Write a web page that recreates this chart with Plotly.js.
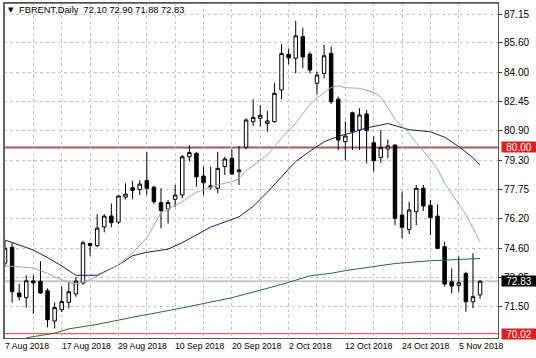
<!DOCTYPE html>
<html><head><meta charset="utf-8">
<script src="https://cdn.plot.ly/plotly-3.0.1.min.js"></script>
<style>html,body{margin:0;padding:0;background:#fff}#chart{width:536px;height:358px}</style>
</head><body><div id="chart"></div>
<script>
// ---- DATA ----
const dates = [
 '2018-08-07','2018-08-08','2018-08-09','2018-08-10','2018-08-13','2018-08-14','2018-08-15','2018-08-16','2018-08-17',
 '2018-08-20','2018-08-21','2018-08-22','2018-08-23','2018-08-24','2018-08-27','2018-08-28','2018-08-29','2018-08-30','2018-08-31',
 '2018-09-03','2018-09-04','2018-09-05','2018-09-06','2018-09-07','2018-09-10','2018-09-11','2018-09-12','2018-09-13','2018-09-14',
 '2018-09-17','2018-09-18','2018-09-19','2018-09-20','2018-09-21','2018-09-24','2018-09-25','2018-09-26','2018-09-27','2018-09-28',
 '2018-10-01','2018-10-02','2018-10-03','2018-10-04','2018-10-05','2018-10-08','2018-10-09','2018-10-10','2018-10-11','2018-10-12',
 '2018-10-15','2018-10-16','2018-10-17','2018-10-18','2018-10-19','2018-10-22','2018-10-23','2018-10-24','2018-10-25','2018-10-26',
 '2018-10-29','2018-10-30','2018-10-31','2018-11-01','2018-11-02','2018-11-05','2018-11-06','2018-11-07','2018-11-08'
];
const open  = [73.80,74.65,72.20,71.95,72.85,72.83,72.32,70.70,71.30,71.70,72.15,72.74,74.85,74.74,75.74,76.33,76.00,77.34,77.84,77.75,
               78.22,77.87,77.04,76.70,77.22,77.45,79.50,79.68,78.47,77.94,77.81,78.97,79.42,78.70,80.01,81.38,81.56,81.29,81.38,83.08,
               84.99,84.78,85.94,85.00,83.44,83.97,85.04,82.59,80.31,81.86,80.93,81.79,80.25,79.47,79.92,80.13,76.38,75.61,76.56,77.81,
               76.90,76.32,74.68,72.80,72.61,73.25,71.73,72.10];
const high  = [75.00,74.89,72.70,73.15,73.15,73.90,72.45,71.70,72.55,72.78,73.06,75.00,74.90,76.42,76.42,77.00,77.46,78.08,78.22,78.25,
               79.77,77.95,77.81,77.18,78.00,79.59,80.13,79.77,78.97,78.97,79.77,79.50,79.90,80.08,81.56,82.58,82.27,81.95,83.44,85.54,
               85.30,86.79,86.42,85.13,84.06,85.50,85.40,82.72,81.40,81.92,82.10,82.00,80.60,80.93,80.43,80.15,77.63,77.09,77.99,77.99,
               77.18,76.95,74.95,73.52,74.15,73.34,74.33,72.90];
const low   = [73.60,71.68,71.80,71.42,71.08,72.15,70.36,70.30,71.18,71.37,72.00,72.64,74.20,74.66,75.45,75.72,75.90,77.22,77.22,77.45,
               77.45,76.95,75.67,75.93,76.82,77.27,79.24,77.90,77.45,77.74,77.55,78.52,78.52,77.99,79.90,81.15,81.11,80.84,81.33,82.58,
               84.45,83.97,84.25,83.97,82.85,83.70,82.33,79.86,79.33,79.86,79.86,79.15,78.70,79.18,79.42,75.84,75.13,75.36,75.84,76.60,
               75.30,74.55,72.54,72.18,72.27,71.20,71.38,71.88];
const close = [74.60,72.27,72.00,72.85,72.74,72.20,70.77,71.42,71.74,72.27,72.84,74.89,74.75,75.68,76.32,75.97,77.40,77.50,77.70,78.04,
               77.81,77.09,76.62,77.05,77.45,79.50,79.72,78.43,78.11,77.88,78.88,79.38,78.58,78.79,81.47,81.61,81.72,81.42,82.90,85.04,
               84.80,85.98,84.85,84.15,83.88,84.91,82.45,80.40,80.61,80.84,81.74,80.90,79.29,80.00,80.08,76.20,75.72,76.65,77.81,76.86,
               76.24,74.59,72.68,72.57,72.75,71.73,72.00,72.83];

// moving averages (at bar indices)
const maFastIdx = [0,4,6,8,10,12,14,16,18,20,22,25,27,30,32,33,34,37,39,41,43,44,46,47,48,50,52,53,54,55,57,58,60,61,62,63,64,65,66,67];
const maFastVal = [73.66,73.54,73.25,72.90,72.68,72.90,73.30,73.70,74.35,75.15,76.50,77.10,77.60,78.00,78.16,78.35,78.75,79.60,80.50,81.30,
                   82.30,82.65,83.22,83.30,83.20,83.17,82.95,82.70,82.15,81.50,80.75,80.25,79.35,78.85,78.10,77.50,76.95,76.40,75.70,74.95];
const maMidIdx  = [0,4,6,8,10,13,16,18,20,23,25,29,33,35,37,39,41,43,45,47,49,51,54,57,60,62,64,66,67];
const maMidVal  = [75.04,74.50,74.10,73.65,73.15,73.15,73.70,74.20,74.38,74.55,74.90,75.73,76.28,76.85,77.60,78.43,79.25,79.80,80.30,80.60,
                   80.80,81.05,81.28,80.95,80.84,80.55,80.05,79.45,79.06];
const maSlowIdx = [3,5,7,9,13,18,23,25,32,39,43,46,48,51,55,60,62,67];
const maSlowVal = [69.80,69.93,70.05,70.28,70.52,70.90,71.25,71.40,71.95,72.66,73.12,73.26,73.40,73.55,73.78,73.93,73.97,74.05];

const yTickVals = [87.15,85.60,84.00,82.45,80.90,79.30,77.75,76.20,74.60,73.05,71.50];
const xLabelIdx = [0,8,16,24,32,40,48,56,64];
const xLabelText = ['7 Aug 2018','17 Aug 2018','29 Aug 2018','10 Sep 2018','20 Sep 2018','2 Oct 2018','12 Oct 2018','24 Oct 2018','5 Nov 2018'];
const levelLines = [80.00, 72.83, 70.02];
const title = 'FBRENT,Daily  72.10 72.90 71.88 72.83';

// ---- CHART ----
const FONT = 'Liberation Sans, Arial, sans-serif';
const grid = '#c4c4c4';
const traces = [
  {type:'candlestick', x:dates, open:open, high:high, low:low, close:close,
   increasing:{line:{color:'#000',width:1}, fillcolor:'#ffffff'},
   decreasing:{line:{color:'#000',width:1}, fillcolor:'#000000'},
   whiskerwidth:0, hoverinfo:'skip', showlegend:false},
  {type:'scatter', mode:'lines', x:maSlowIdx.map(i=>dates[i]), y:maSlowVal, line:{color:'#2c6a32',width:1}, hoverinfo:'skip', showlegend:false},
  {type:'scatter', mode:'lines', x:maMidIdx.map(i=>dates[i]), y:maMidVal, line:{color:'#1c1f52',width:1}, hoverinfo:'skip', showlegend:false},
  {type:'scatter', mode:'lines', x:maFastIdx.map(i=>dates[i]), y:maFastVal, line:{color:'#86b4a4',width:1}, hoverinfo:'skip', showlegend:false}
];

const shapes = [
  {type:'line', xref:'paper', yref:'y', x0:0, x1:1, y0:levelLines[1], y1:levelLines[1], line:{color:'#c8c8c8', width:2}, layer:'between'},
  {type:'line', xref:'paper', yref:'y', x0:0, x1:1, y0:levelLines[0], y1:levelLines[0], line:{color:'#a85858', width:2}, layer:'between'},
  {type:'line', xref:'paper', yref:'y', x0:0, x1:1, y0:levelLines[2], y1:levelLines[2], line:{color:'#d83a3a', width:1}, layer:'between'},
  {type:'line', xref:'paper', yref:'paper', x0:0, x1:0, y0:0, y1:1, line:{color:'#666', width:2}, layer:'above'},
  {type:'line', xref:'paper', yref:'paper', x0:0, x1:1, y0:1, y1:1, line:{color:'#555', width:1.5}, layer:'above'}
];

const annotations = [];
xLabelIdx.forEach((i,k)=>{
  annotations.push({xref:'x', yref:'paper', x:dates[i], y:-0.024, xanchor:'left', yanchor:'middle', xshift:-2,
    text:xLabelText[k], showarrow:false, font:{family:FONT, size:8.7, color:'#000'}});
});
const boxCols = ['#e01e1e','#000000','#e01e1e'];
levelLines.forEach((v,k)=>{
  annotations.push({xref:'paper', yref:'y', x:1.006, y:v, xanchor:'left', yanchor:'middle',
    text:v.toFixed(2), showarrow:false, bgcolor:boxCols[k], width:34, height:10, borderpad:0,
    font:{family:FONT, size:10, color:'#fff'}});
});
annotations.push({xref:'paper', yref:'paper', x:0.004, y:0.979, xanchor:'left', yanchor:'middle',
  text:'▼', showarrow:false, font:{family:'DejaVu Sans', size:7, color:'#000'}});
annotations.push({xref:'paper', yref:'paper', x:0.027, y:0.979, xanchor:'left', yanchor:'middle',
  text:title, showarrow:false, font:{family:FONT, size:9.3, color:'#000'}});

const layout = {
  width:536, height:358,
  margin:{l:4, r:38, t:3, b:20, pad:0},
  paper_bgcolor:'#fff', plot_bgcolor:'#fff',
  showlegend:false, hovermode:false,
  xaxis:{type:'category', range:[-0.14, 69.53], rangeslider:{visible:false},
    tickvals:dates.filter((d,i)=>i%4===0), showticklabels:false, ticks:'',
    showgrid:true, gridcolor:grid, griddash:'3px,3px', gridwidth:1,
    showline:true, mirror:true, linecolor:'#555', linewidth:1, zeroline:false, fixedrange:true},
  yaxis:{side:'right', range:[69.79, 87.74], tickvals:yTickVals, ticktext:yTickVals.map(v=>v.toFixed(2)),
    ticks:'outside', ticklen:3, tickcolor:'#333',
    tickfont:{family:FONT, size:10, color:'#000'},
    showgrid:true, gridcolor:grid, griddash:'3px,3px', gridwidth:1,
    showline:true, mirror:true, linecolor:'#555', linewidth:1, zeroline:false, fixedrange:true},
  shapes:shapes, annotations:annotations
};
Plotly.newPlot('chart', traces, layout, {displayModeBar:false, staticPlot:true});
</script></body></html>
